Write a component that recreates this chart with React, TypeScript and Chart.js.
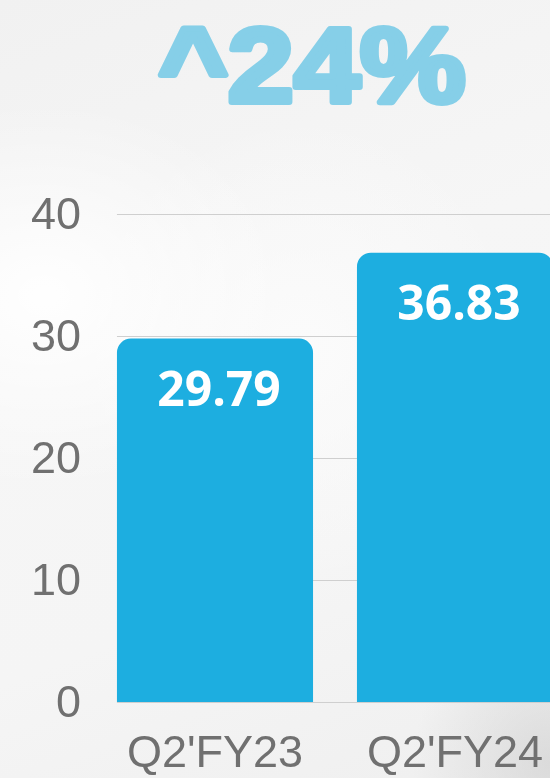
import React, { useEffect, useRef } from "react";
import { Chart, registerables } from "chart.js";

Chart.register(...registerables);

const categories = ["Q2'FY23", "Q2'FY24"];
const values = [29.79, 36.83];
const yTicks = [0, 10, 20, 30, 40];
const titleText = "^24%";

const BAR_COLOR = "#1daee0";
const TICK_COLOR = "#707070";

export default function App() {
  const ref = useRef<HTMLCanvasElement | null>(null);

  useEffect(() => {
    document.body.style.margin = "0";
    document.body.style.overflow = "hidden";
    const canvas = ref.current;
    if (!canvas) return;

    const gridPlugin = {
      id: "customGrid",
      beforeDatasetsDraw(chart: any) {
        const { ctx, chartArea, scales } = chart;
        const meta = chart.getDatasetMeta(0);
        const first = meta.data[0];
        const x0 = first.x - first.width / 2;
        ctx.save();
        ctx.strokeStyle = "#cfcfcf";
        ctx.lineWidth = 1;
        yTicks.forEach((v) => {
          const y = Math.round(scales.y.getPixelForValue(v)) + 0.5;
          ctx.beginPath();
          ctx.moveTo(x0, y);
          ctx.lineTo(chartArea.right + 60, y);
          ctx.stroke();
        });
        ctx.restore();
      },
    };

    const labelPlugin = {
      id: "valueLabels",
      afterDatasetsDraw(chart: any) {
        const { ctx } = chart;
        const meta = chart.getDatasetMeta(0);
        ctx.save();
        ctx.fillStyle = "#ffffff";
        ctx.font = "bold 48px 'Open Sans'";
        ctx.textAlign = "center";
        ctx.textBaseline = "middle";
        meta.data.forEach((bar: any, i: number) => {
          ctx.fillText(values[i].toFixed(2), bar.x + 4, bar.y + 54);
        });
        ctx.restore();
      },
    };

    const titlePlugin = {
      id: "bigTitle",
      afterDraw(chart: any) {
        const { ctx } = chart;
        ctx.save();
        ctx.fillStyle = "#86cfe8";
        ctx.strokeStyle = "#86cfe8";
        ctx.lineWidth = 6;
        ctx.lineJoin = "round";
        ctx.font = "bold 106px 'Liberation Sans'";
        ctx.textAlign = "center";
        ctx.textBaseline = "alphabetic";
        ctx.translate(312, 102);
        ctx.scale(1.12, 1);
        ctx.fillText(titleText, 0, 0);
        ctx.strokeText(titleText, 0, 0);
        ctx.restore();
      },
    };

    const chart = new Chart(canvas, {
      type: "bar",
      data: {
        labels: categories,
        datasets: [
          {
            data: values,
            backgroundColor: BAR_COLOR,
            borderRadius: { topLeft: 14, topRight: 14, bottomLeft: 0, bottomRight: 0 },
            borderSkipped: "bottom",
            categoryPercentage: 0.817,
            barPercentage: 1,
          },
        ],
      },
      options: {
        responsive: false,
        animation: false,
        layout: { padding: { top: 214, right: 49, left: 0, bottom: 0 } },
        plugins: {
          legend: { display: false },
          tooltip: { enabled: false },
          title: { display: false },
        },
        scales: {
          x: {
            grid: { display: false },
            border: { display: false },
            ticks: {
              color: TICK_COLOR,
              font: { family: "'Liberation Sans'", size: 45 },
              padding: 18,
              maxRotation: 0,
            },
            afterFit: (s: any) => {
              s.height = 76;
            },
          },
          y: {
            min: 0,
            max: 40,
            grid: { display: false, drawTicks: false },
            border: { display: false },
            ticks: {
              stepSize: 10,
              color: TICK_COLOR,
              font: { family: "'Liberation Sans'", size: 45 },
              padding: 14,
              labelOffset: 3,
            },
            afterFit: (s: any) => {
              s.width = 95;
            },
          },
        },
      },
      plugins: [gridPlugin, labelPlugin, titlePlugin],
    });

    return () => chart.destroy();
  }, []);

  return (
    <div
      style={{
        position: "relative",
        width: 550,
        height: 778,
        overflow: "hidden",
        background:
          "radial-gradient(ellipse 45% 25% at 8% 38%, rgba(255,255,255,0.95), rgba(255,255,255,0) 100%)," +
          "radial-gradient(ellipse 40% 30% at 55% 45%, rgba(252,252,252,0.9), rgba(252,252,252,0) 100%)," +
          "radial-gradient(ellipse 25% 18% at 100% 98%, rgba(210,210,210,0.7), rgba(210,210,210,0) 100%)," +
          "linear-gradient(160deg, #f1f1f1 0%, #f6f6f6 40%, #f5f5f5 70%, #efefef 100%)",
      }}
    >
      <canvas
        ref={ref}
        width={624}
        height={778}
        style={{ position: "absolute", left: 0, top: 0, width: 624, height: 778 }}
      />
    </div>
  );
}
